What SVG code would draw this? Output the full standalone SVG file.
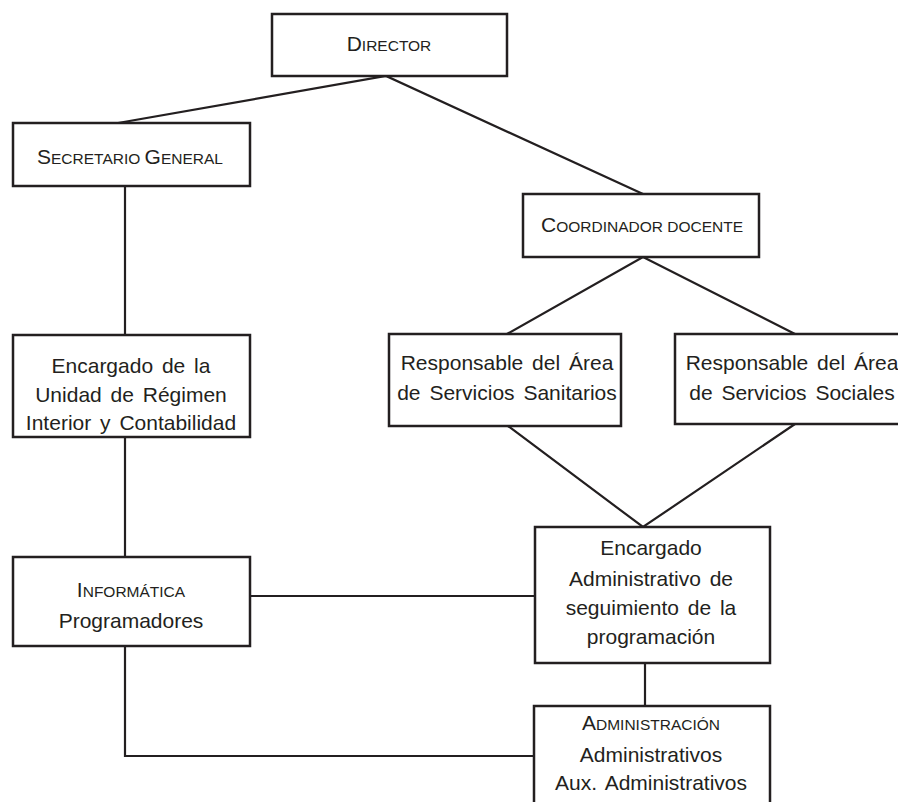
<svg xmlns="http://www.w3.org/2000/svg" width="898" height="802" viewBox="0 0 898 802">
<style>
.box{fill:#fff;stroke:#231f20;stroke-width:2.5}
.ln{fill:none;stroke:#231f20;stroke-width:2.2}
text{font-family:"Liberation Sans",Arial,sans-serif;fill:#231f20;text-anchor:middle}
.t{font-size:21px;word-spacing:3px}
.sc{font-size:21px}
.sm{font-size:15.5px}
</style>
<rect width="898" height="802" fill="#fff"/>
<g id="connectors">
<polyline class="ln" points="118,123 386,76 643,194"/>
<line class="ln" x1="125" y1="186" x2="125" y2="335"/>
<polyline class="ln" points="507,334 643,257 795,334"/>
<polyline class="ln" points="508,426 643,527 795,424"/>
<line class="ln" x1="125" y1="437" x2="125" y2="557"/>
<line class="ln" x1="250" y1="596" x2="535" y2="596"/>
<line class="ln" x1="645" y1="663" x2="645" y2="706"/>
<polyline class="ln" points="125,646 125,756 534,756"/>
</g>
<g id="director">
<rect class="box" x="272" y="14" width="235" height="62"/>
<text x="389" y="51"><tspan class="sc">D</tspan><tspan class="sm">IRECTOR</tspan></text>
</g>
<g id="secretario">
<rect class="box" x="13" y="123" width="237" height="63"/>
<text x="130" y="164"><tspan class="sc">S</tspan><tspan class="sm">ECRETARIO </tspan><tspan class="sc">G</tspan><tspan class="sm">ENERAL</tspan></text>
</g>
<g id="coordinador">
<rect class="box" x="523" y="194" width="236" height="63"/>
<text x="642" y="232"><tspan class="sc">C</tspan><tspan class="sm">OORDINADOR DOCENTE</tspan></text>
</g>
<g id="unidad">
<rect class="box" x="13" y="335" width="237" height="102"/>
<text class="t" x="131" y="373">Encargado de la</text>
<text class="t" x="131" y="402">Unidad de Régimen</text>
<text class="t" x="131" y="430">Interior y Contabilidad</text>
</g>
<g id="sanitarios">
<rect class="box" x="389" y="334" width="232" height="92"/>
<text class="t" x="507" y="370">Responsable del Área</text>
<text class="t" x="507" y="400">de Servicios Sanitarios</text>
</g>
<g id="sociales">
<rect class="box" x="675" y="334" width="232" height="90"/>
<text class="t" x="792" y="370">Responsable del Área</text>
<text class="t" x="792" y="400">de Servicios Sociales</text>
</g>
<g id="informatica">
<rect class="box" x="13" y="557" width="237" height="89"/>
<text x="131" y="597"><tspan class="sc">I</tspan><tspan class="sm">NFORMÁTICA</tspan></text>
<text class="t" x="131" y="628">Programadores</text>
</g>
<g id="encargado-admin">
<rect class="box" x="535" y="527" width="235" height="136"/>
<text class="t" x="651" y="555">Encargado</text>
<text class="t" x="651" y="586">Administrativo de</text>
<text class="t" x="651" y="615">seguimiento de la</text>
<text class="t" x="651" y="644">programación</text>
</g>
<g id="administracion">
<rect class="box" x="534" y="706" width="236" height="110"/>
<text x="651" y="730"><tspan class="sc">A</tspan><tspan class="sm">DMINISTRACIÓN</tspan></text>
<text class="t" x="651" y="762">Administrativos</text>
<text class="t" x="651" y="790">Aux. Administrativos</text>
</g>
</svg>
